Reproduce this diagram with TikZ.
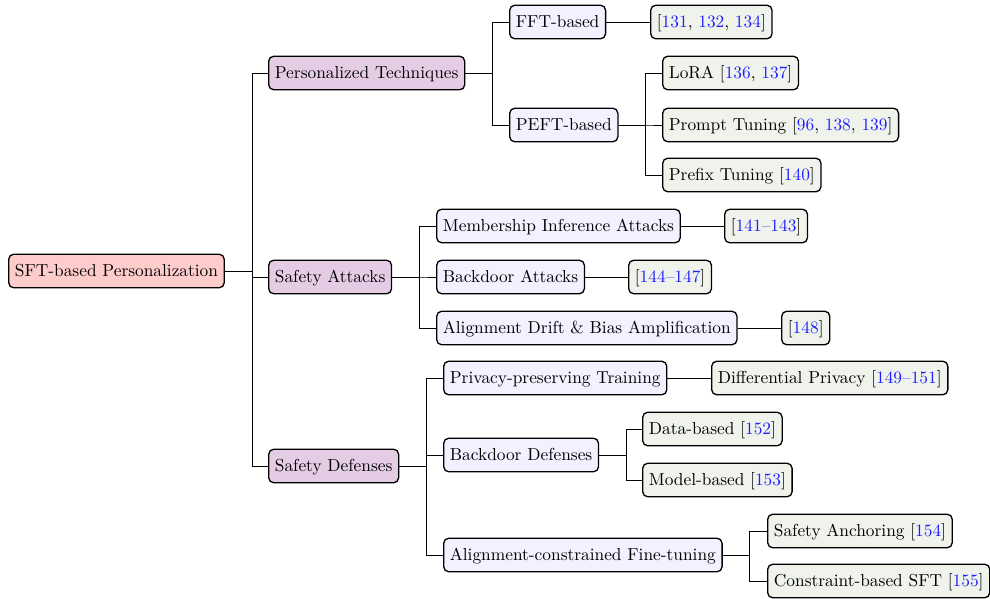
\documentclass[tikz,border=0pt]{standalone}
\usepackage{xcolor}
\definecolor{rootfill}{RGB}{255,204,204}
\definecolor{lonefill}{RGB}{229,204,229}
\definecolor{ltwofill}{RGB}{241,241,255}
\definecolor{leaffill}{RGB}{239,243,236}
\definecolor{citeblue}{RGB}{30,30,255}
\newcommand{\cit}[1]{\textcolor{citeblue}{#1}}
\begin{document}
\begin{tikzpicture}[x=0.5764pt,y=-0.5764pt,
  box/.style={draw=black,line width=0.75pt,rounded corners=3pt,anchor=west,
    text height=7.4pt,text depth=1.4pt,inner xsep=3.6pt,inner ysep=5.3pt,font=\fontsize{10}{12}\selectfont},
  rootbox/.style={box,fill=rootfill},
  lonebox/.style={box,fill=lonefill},
  ltwobox/.style={box,fill=ltwofill},
  leafbox/.style={box,fill=leaffill},
  edge/.style={draw=black,line width=0.5pt}]
\useasboundingbox (0,0) rectangle (990,598);
% nodes
\node[rootbox] (root) at (8,271) {SFT-based Personalization};
\node[lonebox] (pt) at (268,73) {Personalized Techniques};
\node[lonebox] (sa) at (268,277) {Safety Attacks};
\node[lonebox] (sd) at (268,466) {Safety Defenses};
\node[ltwobox] (fft) at (509,22) {FFT-based};
\node[ltwobox] (peft) at (509,125) {PEFT-based};
\node[leafbox] (c131) at (650,22) {[\cit{131}, \cit{132}, \cit{134}]};
\node[leafbox] (lora) at (662,73) {LoRA [\cit{136}, \cit{137}]};
\node[leafbox] (prompt) at (662,125) {Prompt Tuning [\cit{96}, \cit{138}, \cit{139}]};
\node[leafbox] (prefix) at (662,175) {Prefix Tuning [\cit{140}]};
\node[ltwobox] (mia) at (436,226) {Membership Inference Attacks};
\node[ltwobox] (bda) at (436,277) {Backdoor Attacks};
\node[ltwobox] (adba) at (436,328) {Alignment Drift \& Bias Amplification};
\node[leafbox] (c141) at (724,226) {[\cit{141--143}]};
\node[leafbox] (c144) at (628,277) {[\cit{144--147}]};
\node[leafbox] (c148) at (781,328) {[\cit{148}]};
\node[ltwobox] (ppt) at (443,378) {Privacy-preserving Training};
\node[ltwobox] (bdd) at (443,455) {Backdoor Defenses};
\node[ltwobox] (act) at (443,555) {Alignment-constrained Fine-tuning};
\node[leafbox] (dp) at (711,378) {Differential Privacy [\cit{149--151}]};
\node[leafbox] (data) at (642,429) {Data-based [\cit{152}]};
\node[leafbox] (model) at (642,480) {Model-based [\cit{153}]};
\node[leafbox] (anch) at (767,531) {Safety Anchoring [\cit{154}]};
\node[leafbox] (csft) at (767,581) {Constraint-based SFT [\cit{155}]};
% edges
\foreach \c in {pt,sa,sd} \draw[edge] (root.east) -- ++(27,0) |- (\c.west);
\foreach \c in {fft,peft} \draw[edge] (pt.east) -- ++(27,0) |- (\c.west);
\draw[edge] (fft.east) -- (c131.west);
\foreach \c in {lora,prompt,prefix} \draw[edge] (peft.east) -- ++(27,0) |- (\c.west);
\foreach \c in {mia,bda,adba} \draw[edge] (sa.east) -- ++(27,0) |- (\c.west);
\draw[edge] (mia.east) -- (c141.west);
\draw[edge] (bda.east) -- (c144.west);
\draw[edge] (adba.east) -- (c148.west);
\foreach \c in {ppt,bdd,act} \draw[edge] (sd.east) -- ++(27,0) |- (\c.west);
\draw[edge] (ppt.east) -- (dp.west);
\foreach \c in {data,model} \draw[edge] (bdd.east) -- ++(27,0) |- (\c.west);
\foreach \c in {anch,csft} \draw[edge] (act.east) -- ++(27,0) |- (\c.west);
\end{tikzpicture}
\end{document}
